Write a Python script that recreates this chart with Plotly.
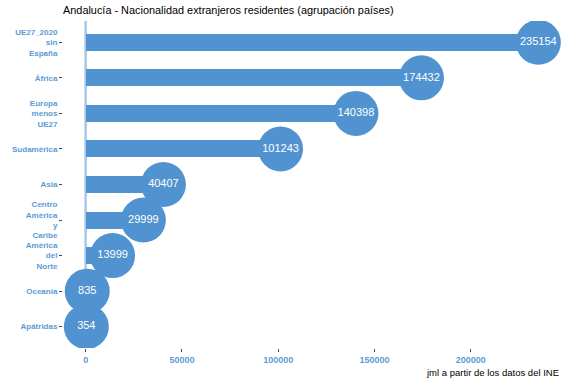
import plotly.graph_objects as go

categories = ["UE27_2020<br>sin<br>España", "África", "Europa<br>menos<br>UE27", "Sudamérica", "Asia",
              "Centro<br>América<br>y<br>Caribe", "América<br>del<br>Norte", "Oceanía", "Apátridas"]
values = [235154, 174432, 140398, 101243, 40407, 29999, 13999, 835, 354]
x_ticks = [0, 50000, 100000, 150000, 200000]

bar_color = "#5193d0"
label_color = "#5b9bd5"

fig = go.Figure()
fig.add_trace(go.Bar(
    y=categories, x=values, orientation="h", width=0.48,
    marker=dict(color=bar_color, line=dict(width=0)), hoverinfo="skip"))
fig.add_trace(go.Scatter(
    y=categories, x=values, mode="markers+text",
    marker=dict(size=45, color=bar_color, line=dict(width=0)),
    text=[str(v) for v in values], textposition="middle center",
    textfont=dict(color="white", size=11, family="Liberation Sans")))

fig.add_vline(x=0, line=dict(color="#a4c8ea", width=2.5), layer="below")

xmax = max(values)
fig.update_layout(
    width=566, height=384,
    margin=dict(l=63, r=5, t=21, b=36, autoexpand=False),
    paper_bgcolor="white", plot_bgcolor="white",
    showlegend=False, bargap=0,
    font=dict(family="Liberation Sans"),
    title=dict(text="Andalucía - Nacionalidad extranjeros residentes (agrupación países)",
               x=63/566, xanchor="left", y=1-10/384, yanchor="middle",
               font=dict(size=10.9, color="black", family="Liberation Sans"), automargin=False),
    xaxis=dict(range=[-0.05*xmax, 1.05*xmax], tickvals=x_ticks, ticktext=[str(t) for t in x_ticks],
               showgrid=False, zeroline=False, showline=False, automargin=False,
               ticks="outside", ticklen=3, tickcolor="#444", tickwidth=1,
               tickfont=dict(size=9, color=label_color, family="Liberation Sans", weight="bold")),
    yaxis=dict(categoryorder="array", categoryarray=categories[::-1],
               range=[-0.6, len(categories)-0.4],
               showgrid=False, zeroline=False, showline=False, automargin=False,
               ticks="outside", ticklen=3, tickcolor="#444", tickwidth=1,
               tickfont=dict(size=8, color=label_color, family="Liberation Sans", weight="bold")),
    annotations=[dict(text="jml a partir de los datos del INE", xref="paper", yref="paper",
                      x=1, y=-25/327, xanchor="right", yanchor="middle", showarrow=False,
                      font=dict(size=9.5, color="black", family="Liberation Sans"))]
)
fig.write_html("out.html", config={"displayModeBar": False},
               post_script="document.body.style.margin='0';")
